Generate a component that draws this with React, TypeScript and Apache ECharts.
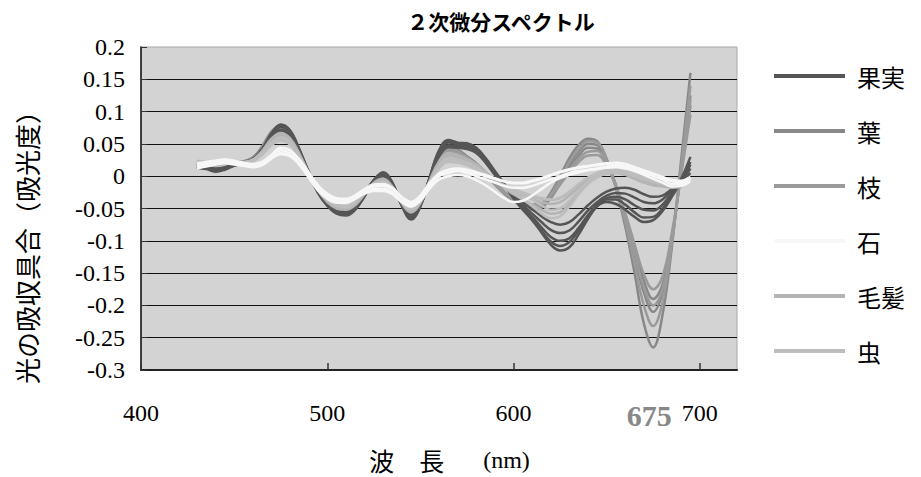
import React, { useEffect, useRef } from "react";
import * as echarts from "echarts";

const title = "２次微分スペクトル";
const yAxisTitle = "光の吸収具合（吸光度）";
const legendNames = ["果実", "葉", "枝", "石", "毛髪", "虫"];
const legendColors = ["#555555", "#888888", "#9a9a9a", "#f7f7f7", "#b4b4b4", "#bdbdbd"];
const xTickLabels = [400, 500, 600, 675, 700];
const xTicks = [400, 500, 600, 700];

const wavelengths = [
  430, 435, 440, 445, 450, 455, 460, 465, 470, 475,
  480, 485, 490, 495, 500, 505, 510, 515, 520, 525,
  530, 535, 540, 545, 550, 555, 560, 565, 570, 575,
  580, 585, 590, 595, 600, 605, 610, 615, 620, 625,
  630, 635, 640, 645, 650, 655, 660, 665, 670, 675,
  680, 685, 690, 695,
];

// 果実
const fruit1 = [
  0.015, 0.012, 0.007, 0.010, 0.016, 0.020, 0.026, 0.042, 0.066, 0.080,
  0.071, 0.042, 0.006, -0.026, -0.046, -0.058, -0.061, -0.052, -0.031, -0.006,
  0.006, -0.010, -0.045, -0.067, -0.047, -0.002, 0.040, 0.056, 0.052, 0.051,
  0.044, 0.028, 0.008, -0.012, -0.034, -0.052, -0.068, -0.087, -0.106, -0.115,
  -0.110, -0.090, -0.066, -0.046, -0.036, -0.036, -0.044, -0.056, -0.064, -0.063,
  -0.050, -0.028, -0.004, 0.030,
];
const fruit2 = [
  0.013, 0.011, 0.008, 0.011, 0.017, 0.021, 0.027, 0.041, 0.063, 0.076,
  0.068, 0.040, 0.006, -0.024, -0.043, -0.055, -0.058, -0.050, -0.030, -0.007,
  0.003, -0.012, -0.044, -0.063, -0.045, -0.003, 0.036, 0.052, 0.049, 0.047,
  0.041, 0.025, 0.005, -0.014, -0.033, -0.049, -0.063, -0.079, -0.094, -0.100,
  -0.096, -0.080, -0.060, -0.044, -0.034, -0.032, -0.036, -0.045, -0.052, -0.053,
  -0.044, -0.026, -0.006, 0.022,
];
const fruit3 = [
  0.016, 0.014, 0.010, 0.012, 0.018, 0.022, 0.027, 0.040, 0.060, 0.072,
  0.064, 0.038, 0.005, -0.023, -0.041, -0.052, -0.055, -0.047, -0.028, -0.006,
  0.002, -0.013, -0.042, -0.060, -0.043, -0.004, 0.033, 0.048, 0.046, 0.044,
  0.038, 0.022, 0.003, -0.015, -0.031, -0.045, -0.058, -0.071, -0.083, -0.088,
  -0.084, -0.070, -0.053, -0.040, -0.030, -0.026, -0.027, -0.033, -0.040, -0.042,
  -0.036, -0.022, -0.008, 0.012,
];
const fruit4 = [
  0.018, 0.016, 0.012, 0.014, 0.019, 0.022, 0.026, 0.038, 0.057, 0.069,
  0.062, 0.037, 0.006, -0.021, -0.039, -0.050, -0.053, -0.045, -0.027, -0.007,
  0.000, -0.014, -0.040, -0.057, -0.041, -0.005, 0.030, 0.045, 0.044, 0.042,
  0.036, 0.021, 0.002, -0.015, -0.029, -0.041, -0.051, -0.062, -0.071, -0.075,
  -0.071, -0.059, -0.045, -0.033, -0.024, -0.019, -0.018, -0.021, -0.028, -0.032,
  -0.030, -0.020, -0.010, 0.005,
];
const fruit5 = [
  0.014, 0.012, 0.009, 0.012, 0.017, 0.020, 0.025, 0.040, 0.064, 0.078,
  0.070, 0.041, 0.006, -0.025, -0.044, -0.056, -0.059, -0.051, -0.031, -0.007,
  0.004, -0.011, -0.046, -0.066, -0.046, -0.002, 0.038, 0.054, 0.050, 0.049,
  0.043, 0.027, 0.006, -0.013, -0.034, -0.051, -0.066, -0.084, -0.101, -0.108,
  -0.102, -0.084, -0.062, -0.046, -0.040, -0.043, -0.052, -0.063, -0.071, -0.068,
  -0.054, -0.032, -0.008, 0.018,
];

// 葉
const leaf1 = [
  0.020, 0.018, 0.019, 0.021, 0.020, 0.022, 0.028, 0.046, 0.069, 0.079,
  0.068, 0.040, 0.008, -0.021, -0.041, -0.053, -0.056, -0.049, -0.030, -0.008,
  0.000, -0.013, -0.041, -0.059, -0.042, -0.004, 0.031, 0.046, 0.041, 0.031,
  0.020, 0.006, -0.009, -0.024, -0.035, -0.044, -0.049, -0.044, -0.026, 0.000,
  0.028, 0.048, 0.058, 0.054, 0.027, -0.018, -0.078, -0.150, -0.228, -0.265,
  -0.215, -0.110, 0.025, 0.160,
];
const leaf2 = [
  0.022, 0.020, 0.021, 0.022, 0.021, 0.023, 0.029, 0.045, 0.066, 0.075,
  0.065, 0.038, 0.007, -0.021, -0.040, -0.051, -0.054, -0.047, -0.029, -0.008,
  -0.001, -0.014, -0.040, -0.057, -0.041, -0.005, 0.028, 0.042, 0.038, 0.028,
  0.017, 0.003, -0.012, -0.026, -0.037, -0.046, -0.051, -0.047, -0.031, -0.008,
  0.018, 0.038, 0.050, 0.048, 0.025, -0.015, -0.065, -0.122, -0.180, -0.210,
  -0.180, -0.100, 0.010, 0.125,
];
const leaf3 = [
  0.019, 0.017, 0.018, 0.020, 0.019, 0.021, 0.027, 0.043, 0.064, 0.073,
  0.063, 0.037, 0.007, -0.020, -0.039, -0.050, -0.053, -0.046, -0.029, -0.009,
  -0.002, -0.015, -0.039, -0.055, -0.040, -0.006, 0.026, 0.040, 0.036, 0.027,
  0.016, 0.002, -0.013, -0.027, -0.038, -0.047, -0.052, -0.049, -0.034, -0.012,
  0.013, 0.032, 0.044, 0.043, 0.022, -0.014, -0.060, -0.112, -0.162, -0.190,
  -0.168, -0.095, 0.005, 0.110,
];

// 枝
const branch1 = [
  0.021, 0.019, 0.020, 0.022, 0.021, 0.022, 0.027, 0.042, 0.062, 0.071,
  0.062, 0.036, 0.006, -0.021, -0.040, -0.051, -0.055, -0.048, -0.030, -0.009,
  -0.002, -0.015, -0.041, -0.058, -0.042, -0.006, 0.026, 0.039, 0.035, 0.026,
  0.015, 0.002, -0.012, -0.025, -0.034, -0.041, -0.045, -0.042, -0.030, -0.011,
  0.010, 0.027, 0.038, 0.039, 0.020, -0.016, -0.062, -0.118, -0.172, -0.200,
  -0.175, -0.098, 0.008, 0.118,
];
const branch2 = [
  0.020, 0.019, 0.020, 0.021, 0.020, 0.022, 0.026, 0.040, 0.060, 0.068,
  0.060, 0.035, 0.006, -0.020, -0.038, -0.049, -0.052, -0.045, -0.028, -0.009,
  -0.003, -0.016, -0.040, -0.056, -0.041, -0.007, 0.024, 0.036, 0.033, 0.024,
  0.014, 0.001, -0.012, -0.024, -0.033, -0.040, -0.044, -0.041, -0.030, -0.013,
  0.006, 0.022, 0.032, 0.033, 0.016, -0.016, -0.057, -0.105, -0.152, -0.175,
  -0.155, -0.088, 0.002, 0.095,
];
const branch3 = [
  0.022, 0.020, 0.021, 0.023, 0.022, 0.023, 0.028, 0.044, 0.065, 0.074,
  0.064, 0.038, 0.007, -0.021, -0.041, -0.052, -0.055, -0.048, -0.029, -0.008,
  -0.001, -0.014, -0.041, -0.058, -0.042, -0.005, 0.029, 0.043, 0.039, 0.029,
  0.018, 0.004, -0.011, -0.025, -0.036, -0.045, -0.050, -0.046, -0.029, -0.005,
  0.022, 0.042, 0.054, 0.052, 0.026, -0.017, -0.071, -0.135, -0.200, -0.232,
  -0.195, -0.105, 0.015, 0.140,
];

// 石
const stone1 = [
  0.015, 0.018, 0.022, 0.025, 0.022, 0.018, 0.015, 0.018, 0.030, 0.040,
  0.035, 0.020, 0.000, -0.020, -0.032, -0.038, -0.038, -0.032, -0.025, -0.020,
  -0.020, -0.025, -0.038, -0.045, -0.035, -0.015, 0.000, 0.005, 0.008, 0.005,
  0.000, -0.005, -0.010, -0.015, -0.018, -0.018, -0.015, -0.010, -0.005, 0.000,
  0.005, 0.008, 0.010, 0.012, 0.015, 0.017, 0.015, 0.010, 0.005, 0.000,
  -0.005, -0.012, -0.012, -0.005,
];
const stone2 = [
  0.020, 0.022, 0.024, 0.026, 0.024, 0.021, 0.019, 0.022, 0.033, 0.044,
  0.040, 0.026, 0.006, -0.014, -0.028, -0.036, -0.037, -0.030, -0.020, -0.013,
  -0.012, -0.018, -0.032, -0.040, -0.030, -0.010, 0.004, 0.010, 0.012, 0.010,
  0.006, 0.002, -0.003, -0.008, -0.011, -0.011, -0.008, -0.004, 0.001, 0.006,
  0.010, 0.013, 0.015, 0.017, 0.019, 0.020, 0.018, 0.013, 0.008, 0.003,
  -0.002, -0.008, -0.009, -0.002,
];
const stone3 = [
  0.012, 0.015, 0.018, 0.020, 0.018, 0.016, 0.014, 0.017, 0.027, 0.036,
  0.032, 0.018, -0.002, -0.022, -0.035, -0.041, -0.041, -0.035, -0.027, -0.023,
  -0.023, -0.028, -0.040, -0.047, -0.038, -0.019, -0.005, 0.000, 0.002, 0.000,
  -0.006, -0.014, -0.024, -0.034, -0.040, -0.038, -0.030, -0.020, -0.010, -0.003,
  0.002, 0.006, 0.009, 0.011, 0.013, 0.014, 0.012, 0.008, 0.002, -0.004,
  -0.010, -0.016, -0.015, -0.008,
];
const stone4 = [
  0.018, 0.020, 0.021, 0.022, 0.021, 0.019, 0.018, 0.020, 0.028, 0.034,
  0.031, 0.019, 0.003, -0.015, -0.027, -0.034, -0.035, -0.030, -0.022, -0.016,
  -0.015, -0.020, -0.033, -0.041, -0.032, -0.013, 0.001, 0.006, 0.009, 0.008,
  0.004, 0.000, -0.004, -0.008, -0.010, -0.010, -0.007, -0.003, 0.002, 0.007,
  0.011, 0.014, 0.016, 0.018, 0.020, 0.021, 0.019, 0.014, 0.009, 0.004,
  -0.001, -0.006, -0.007, -0.001,
];

// 毛髪
const hair1 = [
  0.018, 0.017, 0.016, 0.019, 0.020, 0.021, 0.025, 0.038, 0.056, 0.064,
  0.057, 0.034, 0.005, -0.021, -0.038, -0.048, -0.050, -0.043, -0.027, -0.011,
  -0.006, -0.017, -0.040, -0.054, -0.040, -0.008, 0.020, 0.032, 0.030, 0.025,
  0.017, 0.006, -0.006, -0.016, -0.024, -0.030, -0.035, -0.040, -0.043, -0.040,
  -0.030, -0.017, -0.006, 0.002, 0.006, 0.006, 0.003, -0.002, -0.008, -0.012,
  -0.014, -0.016, -0.015, -0.008,
];
const hair2 = [
  0.016, 0.016, 0.017, 0.020, 0.021, 0.021, 0.024, 0.036, 0.053, 0.061,
  0.054, 0.032, 0.004, -0.021, -0.037, -0.047, -0.049, -0.042, -0.027, -0.012,
  -0.008, -0.018, -0.040, -0.053, -0.039, -0.009, 0.017, 0.029, 0.027, 0.022,
  0.015, 0.005, -0.006, -0.015, -0.022, -0.027, -0.031, -0.035, -0.037, -0.034,
  -0.025, -0.013, -0.003, 0.004, 0.008, 0.009, 0.006, 0.001, -0.005, -0.009,
  -0.011, -0.013, -0.012, -0.006,
];
const hair3 = [
  0.020, 0.019, 0.018, 0.020, 0.021, 0.022, 0.026, 0.039, 0.058, 0.067,
  0.059, 0.035, 0.005, -0.022, -0.040, -0.050, -0.052, -0.045, -0.028, -0.010,
  -0.004, -0.016, -0.042, -0.056, -0.042, -0.007, 0.023, 0.036, 0.033, 0.027,
  0.019, 0.007, -0.006, -0.018, -0.028, -0.036, -0.044, -0.052, -0.058, -0.056,
  -0.043, -0.026, -0.011, -0.001, 0.004, 0.005, 0.002, -0.004, -0.010, -0.014,
  -0.016, -0.018, -0.016, -0.009,
];

// 虫
const insect1 = [
  0.022, 0.021, 0.020, 0.022, 0.022, 0.021, 0.024, 0.035, 0.051, 0.058,
  0.052, 0.031, 0.004, -0.020, -0.036, -0.045, -0.047, -0.040, -0.026, -0.013,
  -0.010, -0.019, -0.039, -0.051, -0.038, -0.010, 0.014, 0.025, 0.024, 0.020,
  0.013, 0.004, -0.006, -0.015, -0.022, -0.029, -0.036, -0.045, -0.052, -0.050,
  -0.038, -0.022, -0.008, 0.002, 0.007, 0.008, 0.006, 0.002, -0.003, -0.007,
  -0.010, -0.012, -0.011, -0.006,
];
const insect2 = [
  0.019, 0.019, 0.019, 0.021, 0.022, 0.021, 0.023, 0.033, 0.048, 0.055,
  0.049, 0.029, 0.003, -0.020, -0.035, -0.044, -0.046, -0.039, -0.025, -0.013,
  -0.011, -0.020, -0.038, -0.050, -0.037, -0.011, 0.012, 0.022, 0.021, 0.017,
  0.011, 0.003, -0.006, -0.014, -0.020, -0.025, -0.030, -0.034, -0.036, -0.033,
  -0.024, -0.012, -0.002, 0.005, 0.010, 0.011, 0.009, 0.005, 0.000, -0.004,
  -0.007, -0.009, -0.008, -0.003,
];
const insect3 = [
  0.024, 0.022, 0.021, 0.023, 0.023, 0.022, 0.025, 0.036, 0.052, 0.060,
  0.054, 0.032, 0.005, -0.020, -0.036, -0.046, -0.048, -0.041, -0.026, -0.012,
  -0.008, -0.018, -0.040, -0.052, -0.039, -0.009, 0.016, 0.028, 0.026, 0.021,
  0.014, 0.004, -0.007, -0.017, -0.026, -0.035, -0.046, -0.058, -0.065, -0.062,
  -0.047, -0.028, -0.012, -0.002, 0.004, 0.006, 0.004, 0.000, -0.005, -0.009,
  -0.012, -0.014, -0.013, -0.007,
];

const groups: { name: string; lines: number[][] }[] = [
  { name: "葉", lines: [leaf1, leaf2, leaf3] },
  { name: "枝", lines: [branch1, branch2, branch3] },
  { name: "果実", lines: [fruit1, fruit2, fruit3, fruit4, fruit5] },
  { name: "毛髪", lines: [hair1, hair2, hair3] },
  { name: "虫", lines: [insect1, insect2, insect3] },
  { name: "石", lines: [stone1, stone2, stone3, stone4] },
];

const serif = "'Liberation Serif', 'Times New Roman', serif";
const gothic = "'Noto Sans CJK JP', 'Noto Sans', sans-serif";

export default function App() {
  const ref = useRef<HTMLDivElement>(null);
  useEffect(() => {
    if (!ref.current) return;
    const chart = echarts.init(ref.current, undefined, { renderer: "svg" });
    const series: any[] = [];
    groups.forEach((g) => {
      const c = legendColors[legendNames.indexOf(g.name)];
      g.lines.forEach((line) => {
        series.push({
          type: "line",
          name: g.name,
          data: wavelengths.map((w, i) => [w, line[i]]),
          smooth: 0.4,
          symbol: "none",
          showSymbol: false,
          color: c,
          itemStyle: { color: c },
          lineStyle: { color: c, width: 2.5 },
          emphasis: { disabled: true },
        });
      });
    });
    chart.setOption({
      animation: false,
      backgroundColor: "#ffffff",
      title: {
        text: title,
        left: 501,
        top: 10,
        padding: 0,
        textAlign: "center",
        textStyle: { fontFamily: gothic, fontSize: 21, fontWeight: "bold", color: "#000" },
      },
      legend: {
        data: legendNames.map((n, i) => ({ name: n, itemStyle: { color: legendColors[i] } })),
        orient: "vertical",
        left: 774,
        top: 64,
        padding: 0,
        icon: "rect",
        itemWidth: 71,
        itemHeight: 4,
        itemGap: 31,
        selectedMode: false,
        textStyle: {
          fontFamily: gothic,
          fontSize: 24,
          lineHeight: 24,
          color: "#000",
          padding: [0, 0, 0, 7],
        },
      },
      grid: {
        left: 141,
        top: 47,
        width: 596,
        height: 327,
        show: true,
        backgroundColor: "#d3d3d3",
        borderColor: "#a8a8a8",
        borderWidth: 1,
        containLabel: false,
      },
      xAxis: {
        type: "value",
        min: 400,
        max: 720,
        interval: 100,
        axisLine: { show: true, onZero: false, lineStyle: { color: "#222", width: 2 } },
        axisTick: {
          show: true,
          inside: true,
          length: 7,
          customValues: xTicks,
          lineStyle: { color: "#333", width: 1.5 },
        },
        splitLine: { show: false },
        axisLabel: {
          customValues: xTickLabels,
          margin: 31,
          fontFamily: serif,
          fontSize: 24,
          color: "#000",
          formatter: (v: number) => (v === 675 ? "{hl|675}" : String(v)),
          rich: {
            hl: {
              fontFamily: serif,
              fontSize: 30,
              fontWeight: "bold",
              color: "#888888",
              padding: [0, 8, 0, 0],
            },
          },
        },
        name: "{a|波　長}{b|(nm)}",
        nameLocation: "middle",
        nameGap: 77,
        nameTextStyle: {
          padding: [0, 0, 0, 21],
          rich: {
            a: { fontFamily: gothic, fontSize: 25, color: "#000" },
            b: { fontFamily: serif, fontSize: 24, color: "#000", padding: [0, 0, 0, 39] },
          },
        },
      },
      yAxis: {
        type: "value",
        min: -0.3,
        max: 0.2,
        interval: 0.05,
        axisLine: { show: true, onZero: false, lineStyle: { color: "#111", width: 1.5 } },
        axisTick: { show: true, inside: true, length: 6, lineStyle: { color: "#333" } },
        splitLine: { show: true, showMaxLine: false, lineStyle: { color: "#111", width: 1 } },
        axisLabel: {
          margin: 16,
          fontFamily: serif,
          fontSize: 24,
          color: "#000",
          padding: [10, 0, 0, 0],
        },
      },
      graphic: [
        {
          type: "text",
          x: 26,
          y: 241,
          rotation: Math.PI / 2,
          style: {
            text: yAxisTitle,
            fontFamily: gothic,
            fontSize: 26,
            fill: "#000",
            align: "center",
            verticalAlign: "middle",
          },
        },
      ],
      series,
    });
    return () => chart.dispose();
  }, []);
  return (
    <div
      ref={ref}
      style={{ position: "fixed", left: 0, top: 0, width: 921, height: 477 }}
    />
  );
}
